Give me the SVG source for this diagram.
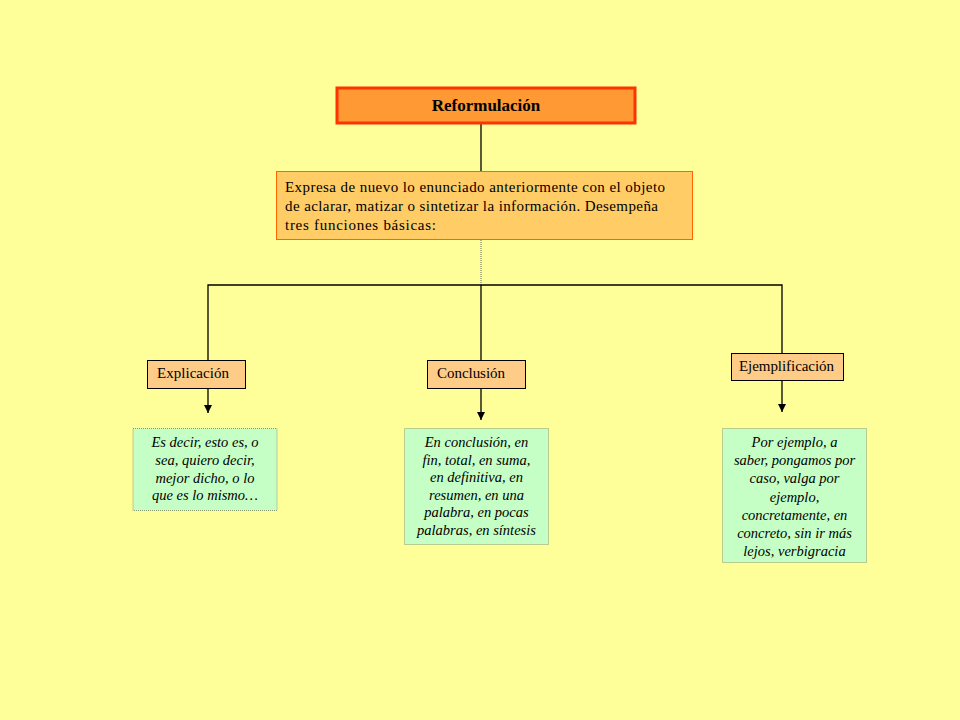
<svg xmlns="http://www.w3.org/2000/svg" width="960" height="720" viewBox="0 0 960 720">
<defs>
<marker id="arr" markerWidth="10" markerHeight="10" refX="8" refY="4.5" orient="auto" markerUnits="userSpaceOnUse">
<path d="M0,0.5 L8,4.5 L0,8.5 Z" fill="#000"/>
</marker>
<style>
.bg{fill:#FFFF99}
.title{fill:#FF9933;stroke:#FF3300;stroke-width:3}
.desc{fill:#FFCC66;stroke:#FF6600;stroke-width:1}
.lbl{fill:#FFCC88;stroke:#000;stroke-width:1}
.ex{fill:#C6FFC6;stroke:#8C9A6A;stroke-width:1;stroke-dasharray:1 1}
.line{stroke:#000;stroke-width:1.3;fill:none}
.dot{stroke:#666;stroke-width:1;stroke-dasharray:1 1;fill:none}
.t{font-family:"Liberation Serif","Times New Roman",serif;fill:#000}
.it{font-family:"Liberation Serif","Times New Roman",serif;font-style:italic;font-size:14.5px;fill:#000;text-anchor:middle}
</style>
</defs>
<rect class="bg" x="0" y="0" width="960" height="720"/>
<g id="connectors">
<line class="line" x1="481" y1="124" x2="481" y2="171"/>
<line class="dot" x1="481" y1="240" x2="481" y2="285"/>
<polyline class="line" points="208,360 208,285 782,285 782,353"/>
<line class="line" x1="481" y1="285" x2="481" y2="360"/>
<line class="line" x1="208" y1="388" x2="208" y2="413" marker-end="url(#arr)"/>
<line class="line" x1="481" y1="388" x2="481" y2="420" marker-end="url(#arr)"/>
<line class="line" x1="782" y1="381" x2="782" y2="412" marker-end="url(#arr)"/>
</g>
<g id="title">
<rect class="title" x="337" y="88" width="298" height="35"/>
<text class="t" x="486" y="111" font-size="17" font-weight="bold" text-anchor="middle">Reformulación</text>
</g>
<g id="description">
<rect class="desc" x="276.5" y="171.5" width="416" height="68"/>
<text class="t" font-size="15" x="285" y="192" textLength="380" lengthAdjust="spacing">Expresa de nuevo lo enunciado anteriormente con el objeto</text>
<text class="t" font-size="15" x="285" y="211" textLength="373" lengthAdjust="spacing">de aclarar, matizar o sintetizar la información. Desempeña</text>
<text class="t" font-size="15" x="285" y="230" textLength="151" lengthAdjust="spacing">tres funciones básicas:</text>
</g>
<g id="explicacion">
<rect class="lbl" x="147.5" y="360.5" width="98" height="28"/>
<text class="t" font-size="15" x="157" y="378" textLength="72" lengthAdjust="spacing">Explicación</text>
</g>
<g id="conclusion">
<rect class="lbl" x="427.5" y="360.5" width="98" height="28"/>
<text class="t" font-size="15" x="437" y="378" textLength="68" lengthAdjust="spacing">Conclusión</text>
</g>
<g id="ejemplificacion">
<rect class="lbl" x="731.5" y="353.5" width="112" height="27"/>
<text class="t" font-size="15" x="739" y="371" textLength="95" lengthAdjust="spacing">Ejemplificación</text>
</g>
<g id="explicacion-ejemplos">
<rect class="ex" x="133" y="428.5" width="144" height="82"/>
<text class="it" x="205" y="447">Es decir, esto es, o</text>
<text class="it" x="205" y="465">sea, quiero decir,</text>
<text class="it" x="205" y="482.5">mejor dicho, o lo</text>
<text class="it" x="205" y="500">que es lo mismo…</text>
</g>
<g id="conclusion-ejemplos">
<rect class="ex" x="404.5" y="428.5" width="144" height="116"/>
<text class="it" x="476.5" y="447">En conclusión, en</text>
<text class="it" x="476.5" y="464.5">fin, total, en suma,</text>
<text class="it" x="476.5" y="482">en definitiva, en</text>
<text class="it" x="476.5" y="499.5">resumen, en una</text>
<text class="it" x="476.5" y="517">palabra, en pocas</text>
<text class="it" x="476.5" y="534.5">palabras, en síntesis</text>
</g>
<g id="ejemplificacion-ejemplos">
<rect class="ex" x="722.5" y="428.5" width="144" height="134"/>
<text class="it" x="794.5" y="447">Por ejemplo, a</text>
<text class="it" x="794.5" y="465.2">saber, pongamos por</text>
<text class="it" x="794.5" y="483.4">caso, valga por</text>
<text class="it" x="794.5" y="501.6">ejemplo,</text>
<text class="it" x="794.5" y="519.8">concretamente, en</text>
<text class="it" x="794.5" y="538">concreto, sin ir más</text>
<text class="it" x="794.5" y="556">lejos, verbigracia</text>
</g>
</svg>
